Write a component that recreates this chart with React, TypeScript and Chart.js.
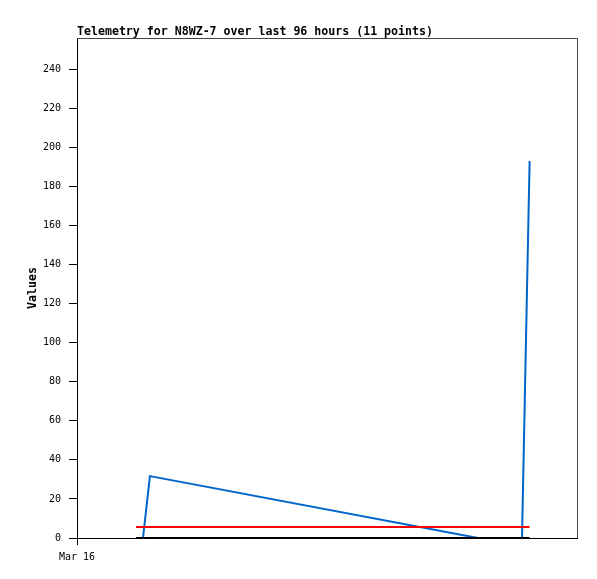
import React, { useEffect, useRef } from "react";
import { Chart, registerables } from "chart.js";

Chart.register(...registerables);

const TITLE = "Telemetry for N8WZ-7 over last 96 hours (11 points)";
const Y_TITLE = "Values";
const X_TICK_LABEL = "Mar 16";
const X_MIN = 0;
const X_MAX = 96;
const Y_MIN = 0;
const Y_MAX = 256;
const Y_TICKS = [0, 20, 40, 60, 80, 100, 120, 140, 160, 180, 200, 220, 240];
const X_TICKS = [0];

// hours since Mar 16 00:00
const valueHours = [11.33, 12.67, 14.0, 77.0, 85.44, 86.9];
const valueSeries = [0, 0, 31.7, 0, 0, 193];
const redHours = [11.33, 86.9];
const redSeries = [5.6, 5.6];
const blackHours = [11.33, 86.9];
const blackSeries = [0, 0];

const FONT = "'DejaVu Sans Mono', monospace";

const zip = (xs: number[], ys: number[]) => xs.map((x, i) => ({ x, y: ys[i] }));

const decorPlugin = {
  id: "decor",
  afterDraw(chart: any) {
    const { ctx, chartArea } = chart;
    const { left, right, top, bottom } = chartArea;
    ctx.save();
    ctx.lineWidth = 1;
    ctx.strokeStyle = "#444444";
    ctx.beginPath();
    ctx.moveTo(left, top + 0.5);
    ctx.lineTo(right + 0.5, top + 0.5);
    ctx.lineTo(right + 0.5, bottom);
    ctx.stroke();
    ctx.fillStyle = "#000";
    ctx.font = `bold 11.6px ${FONT}`;
    ctx.textBaseline = "alphabetic";
    ctx.textAlign = "left";
    ctx.fillText(TITLE, left, 35);
    ctx.translate(32.5, (top + bottom) / 2);
    ctx.rotate(-Math.PI / 2);
    ctx.textAlign = "center";
    ctx.textBaseline = "middle";
    ctx.fillText(Y_TITLE, 0, 0);
    ctx.restore();
  },
};

export default function App() {
  const ref = useRef<HTMLCanvasElement>(null);
  useEffect(() => {
    document.body.style.margin = "0";
    const chart = new Chart(ref.current as HTMLCanvasElement, {
      type: "line",
      data: {
        datasets: [
          {
            data: zip(blackHours, blackSeries),
            borderColor: "#000000",
            borderWidth: 2,
            pointRadius: 0,
            tension: 0,
          },
          {
            data: zip(redHours, redSeries),
            borderColor: "#ff0000",
            borderWidth: 2,
            pointRadius: 0,
            tension: 0,
          },
          {
            data: zip(valueHours, valueSeries),
            borderColor: "#0066cc",
            borderWidth: 2,
            pointRadius: 0,
            tension: 0,
          },
        ],
      },
      options: {
        animation: false,
        responsive: false,
        layout: { padding: { top: 38, right: 20, left: 0, bottom: 0 } },
        plugins: {
          legend: { display: false },
          tooltip: { enabled: false },
          title: { display: false },
        },
        scales: {
          x: {
            type: "linear",
            min: X_MIN,
            max: X_MAX,
            afterBuildTicks: (scale: any) => {
              scale.ticks = X_TICKS.map((v) => ({ value: v }));
            },
            afterFit: (scale: any) => {
              scale.height = 41;
            },
            grid: {
              drawOnChartArea: false,
              drawTicks: true,
              tickLength: 7,
              color: "#000",
            },
            border: { display: true, color: "#000", width: 1 },
            ticks: {
              color: "#000",
              font: { family: FONT, size: 10 },
              padding: 6,
              maxRotation: 0,
              autoSkip: false,
              callback: () => X_TICK_LABEL,
            },
          },
          y: {
            type: "linear",
            min: Y_MIN,
            max: Y_MAX,
            afterBuildTicks: (scale: any) => {
              scale.ticks = Y_TICKS.map((v) => ({ value: v }));
            },
            afterFit: (scale: any) => {
              scale.width = 77;
            },
            grid: {
              drawOnChartArea: false,
              drawTicks: true,
              tickLength: 8,
              color: "#000",
            },
            border: { display: true, color: "#000", width: 1 },
            ticks: {
              color: "#000",
              font: { family: FONT, size: 10 },
              padding: 8,
              autoSkip: false,
            },
          },
        },
      },
      plugins: [decorPlugin],
    } as any);
    return () => chart.destroy();
  }, []);
  return <canvas ref={ref} width={597} height={579} style={{ display: "block" }} />;
}
